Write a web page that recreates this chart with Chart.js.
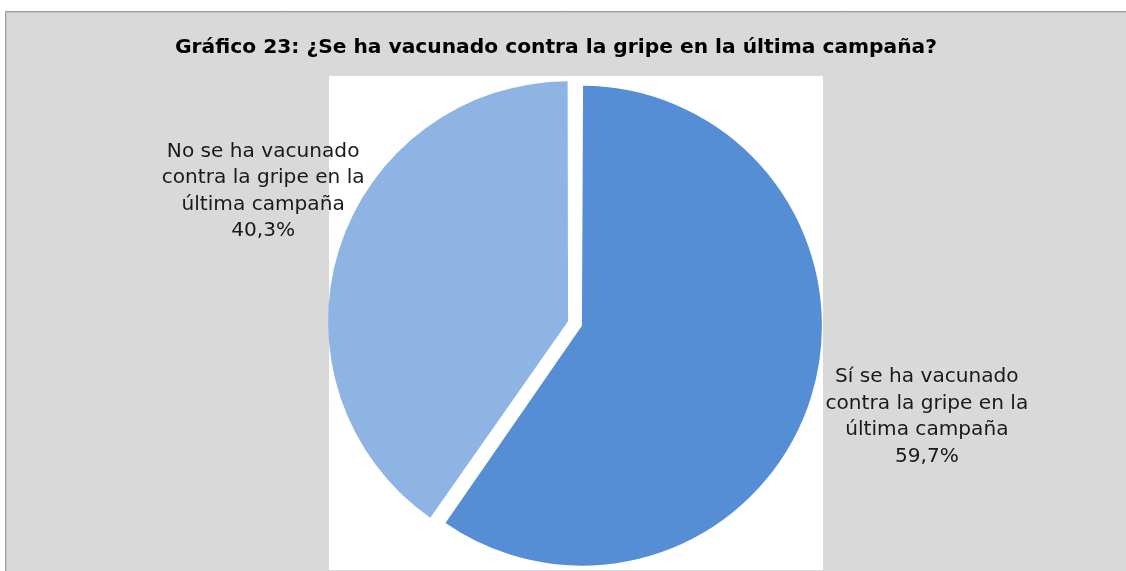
<!DOCTYPE html>
<html><head><meta charset="utf-8">
<script src="https://cdn.jsdelivr.net/npm/chart.js@4.4.1/dist/chart.umd.min.js"></script>
<style>html,body{margin:0;padding:0;background:#fff;overflow:hidden}#wrap{width:1126px;height:571px;position:relative}</style>
</head><body><div id="wrap"><canvas id="c" width="1126" height="571"></canvas></div>
<script>
const TITLE = 'Gráfico 23: ¿Se ha vacunado contra la gripe en la última campaña?';
const categories = [
  ['Sí se ha vacunado', 'contra la gripe en la', 'última campaña'],
  ['No se ha vacunado', 'contra la gripe en la', 'última campaña']
];
const values = [59.7, 40.3];
const colors = ['#558ED5', '#8EB4E3'];

const R = 240;          // pie radius
const EXPLODE = 29;     // Chart.js arc offset (translation = offset/4)
const FAMILY = '"DejaVu Sans", "Liberation Sans", sans-serif';

function fitSize(ctx, text, target, weight) {
  ctx.font = weight + ' 20px ' + FAMILY;
  const w = ctx.measureText(text).width;
  return Math.max(12, Math.min(24, 20 * target / w));
}
function fmt(v) { return v.toFixed(1).replace('.', ',') + '%'; }

const frame = {
  id: 'frame',
  afterDatasetsUpdate(chart) {
    const meta = chart.getDatasetMeta(0);
    meta.data.forEach(arc => {
      const off = (arc.options.offset || 0) / 4;
      const fix = 1 - Math.sin(Math.min(Math.PI, arc.circumference));
      arc.outerRadius = R - off * fix;
    });
  },
  beforeDraw(chart) {
    const ctx = chart.ctx;
    const W = chart.width, H = chart.height;
    const ca = chart.chartArea;
    const cx = (ca.left + ca.right) / 2, cy = (ca.top + ca.bottom) / 2;
    ctx.save();
    ctx.fillStyle = '#ffffff'; ctx.fillRect(0, 0, W, H);
    ctx.fillStyle = '#d9d9d9'; ctx.fillRect(5, 11, W - 5, H - 11);
    ctx.strokeStyle = '#9c9c9c'; ctx.lineWidth = 1;
    ctx.beginPath(); ctx.moveTo(5.5, H); ctx.lineTo(5.5, 11.5); ctx.lineTo(W, 11.5); ctx.stroke();
    ctx.strokeStyle = '#c4c4c4';
    ctx.beginPath(); ctx.moveTo(6.5, H); ctx.lineTo(6.5, 12.5); ctx.lineTo(W, 12.5); ctx.stroke();
    // white plot area
    ctx.fillStyle = '#ffffff';
    ctx.fillRect(cx - R - 6, cy - R - 7.5, 2 * R + 14, 2 * R + 14);
    // title
    const ts = fitSize(ctx, TITLE, 762, 'bold');
    ctx.font = 'bold ' + ts + 'px ' + FAMILY;
    ctx.fillStyle = '#000000';
    ctx.textAlign = 'center'; ctx.textBaseline = 'middle';
    ctx.fillText(TITLE, 556, 48);
    ctx.restore();
  },
  afterDatasetsDraw(chart) {
    const ctx = chart.ctx;
    const meta = chart.getDatasetMeta(0);
    const fs = fitSize(ctx, 'contra la gripe en la', 203, 'normal');
    const lh = 26.5;
    ctx.save();
    ctx.font = fs + 'px ' + FAMILY;
    ctx.fillStyle = '#1a1a1a';
    ctx.textAlign = 'center'; ctx.textBaseline = 'middle';
    meta.data.forEach((arc, i) => {
      const mid = (arc.startAngle + arc.endAngle) / 2;
      const dx = Math.cos(mid), dy = Math.sin(mid);
      const t = (arc.options.offset || 0) / 4;
      const px = arc.x + dx * (t + R), py = arc.y + dy * (t + R);
      const o = dx < 0 ? [-76, -58] : [116, 19];
      const lines = categories[i].concat([fmt(values[i])]);
      const bx = px + o[0], by = py + o[1];
      lines.forEach((ln, k) => {
        ctx.fillText(ln, bx, by + (k - (lines.length - 1) / 2) * lh);
      });
    });
    ctx.restore();
  }
};

new Chart(document.getElementById('c'), {
  type: 'pie',
  data: {
    labels: categories,
    datasets: [{
      data: values,
      backgroundColor: colors,
      borderWidth: 0,
      offset: EXPLODE
    }]
  },
  options: {
    responsive: false,
    animation: false,
    events: [],
    radius: R,
    layout: { padding: { left: 330, right: 306, top: 79, bottom: 3 } },
    plugins: { legend: { display: false }, title: { display: false }, tooltip: { enabled: false } }
  },
  plugins: [frame]
});
</script>
</body></html>
